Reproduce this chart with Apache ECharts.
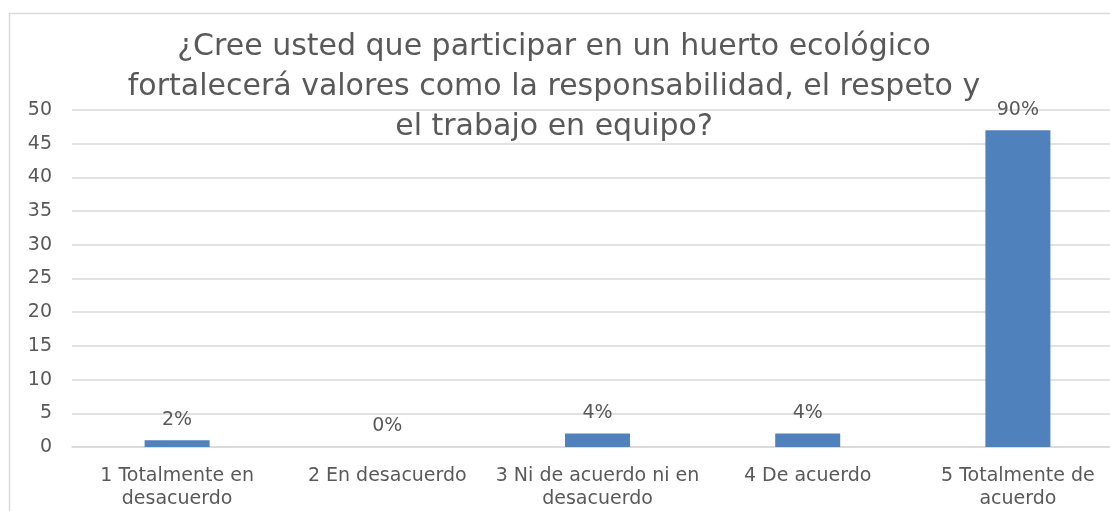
<!DOCTYPE html>
<html><head><meta charset="utf-8">
<script src="https://cdn.jsdelivr.net/npm/echarts@6/dist/echarts.min.js"></script>
<style>html,body{margin:0;padding:0;background:#fff}#c{width:1110px;height:511px}</style>
</head><body><div id="c"></div>
<script>
const categories = ['1 Totalmente en\ndesacuerdo','2 En desacuerdo','3 Ni de acuerdo ni en\ndesacuerdo','4 De acuerdo','5 Totalmente de\nacuerdo'];
const values = [1, 0, 2, 2, 47];
const percentLabels = ['2%','0%','4%','4%','90%'];
const titleText = '¿Cree usted que participar en un huerto ecológico\nfortalecerá valores como la responsabilidad, el respeto y\nel trabajo en equipo?';

const chart = echarts.init(document.getElementById('c'));
const font = 'DejaVu Sans';
chart.setOption({
  animation: false,
  graphic: [{type:'rect', left:7, top:11, shape:{width:1130, height:530}, style:{fill:'none', stroke:'#d9d9d9', lineWidth:1.5}, z:-1}],
  title: {text: titleText, left: 549, textAlign:'center', top: 22,
    textStyle:{fontFamily:font, fontSize:30, fontWeight:'normal', color:'#595959', lineHeight:40}},
  grid: {left:72, top:110, width:1051, height:337, outerBoundsMode:'none', containLabel:false},
  xAxis: {type:'category', data:categories,
    axisLine:{lineStyle:{color:'#d9d9d9', width:1.5}}, axisTick:{show:false},
    axisLabel:{fontFamily:font, fontSize:19, color:'#595959', margin:18, lineHeight:23, interval:0}},
  yAxis: {type:'value', min:0, max:50, interval:5,
    axisLine:{show:false}, axisTick:{show:false},
    splitLine:{lineStyle:{color:'#d9d9d9', width:1.5}},
    axisLabel:{fontFamily:font, fontSize:19, color:'#595959', margin:20}},
  series: [{type:'bar', data:values, barWidth:65, itemStyle:{color:'#4F81BD'},
    label:{show:true, position:'top', distance:11, fontFamily:font, fontSize:19, color:'#595959',
      formatter: p => percentLabels[p.dataIndex]}}]
});
</script></body></html>
